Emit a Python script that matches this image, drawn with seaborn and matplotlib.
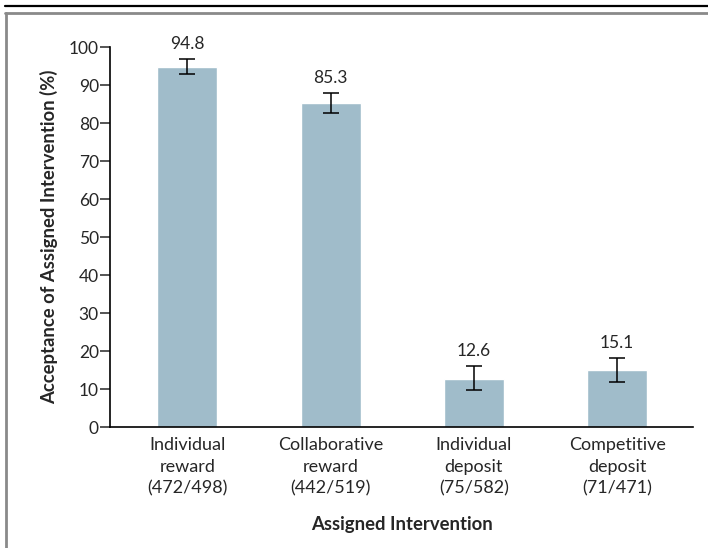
import pandas as pd
import numpy as np
import seaborn as sns
import matplotlib.pyplot as plt
from matplotlib.lines import Line2D

# values
groups = ["Individual\nreward\n(472/498)", "Collaborative\nreward\n(442/519)",
          "Individual\ndeposit\n(75/582)", "Competitive\ndeposit\n(71/471)"]
acceptance = [94.8, 85.3, 12.6, 15.1]
ci_low = [92.9, 82.6, 9.7, 11.8]
ci_high = [96.8, 88.0, 16.0, 18.2]
y_ticks = [0, 10, 20, 30, 40, 50, 60, 70, 80, 90, 100]

bar_color = "#A0BCCA"


def main():
    sns.set_style("white")
    plt.rcParams["font.family"] = ["Lato", "DejaVu Sans"]

    df = pd.DataFrame({"group": groups, "pct": acceptance})

    fig = plt.figure(figsize=(7.08, 5.48), dpi=100)
    ax = fig.add_axes([0.1554, 0.2208, 0.8236, 0.6934])

    sns.barplot(data=df, x="group", y="pct", color=bar_color, width=0.42,
                saturation=1, ax=ax)

    x = np.arange(len(groups))
    vals = np.array(acceptance)
    yerr = [vals - np.array(ci_low), np.array(ci_high) - vals]
    ax.errorbar(x, vals, yerr=yerr, fmt="none", ecolor="black",
                elinewidth=1.1, capsize=5.8, capthick=1.1)

    for xi, hi, v in zip(x, ci_high, acceptance):
        ax.text(xi, hi + 1.8, f"{v:.1f}", ha="center", va="bottom",
                fontsize=12.5)

    ax.set_ylim(0, 100)
    ax.set_xlim(-0.54, 3.53)
    ax.set_yticks(y_ticks)
    ax.tick_params(axis="y", direction="out", length=7, width=1.1,
                   labelsize=12.5, pad=1, left=True)
    ax.tick_params(axis="x", length=0, labelsize=13, pad=7)
    for lab in ax.get_xticklabels():
        lab.set_linespacing(1.45)

    sns.despine(ax=ax, top=True, right=True)
    ax.spines["left"].set_linewidth(1.2)
    ax.spines["bottom"].set_linewidth(1.2)
    ax.spines["left"].set_color("black")
    ax.spines["bottom"].set_color("black")

    ax.set_ylabel("Acceptance of Assigned Intervention (%)", fontsize=13.3,
                  fontweight="bold", labelpad=8)
    ax.set_xlabel("Assigned Intervention", fontsize=13.3, fontweight="bold",
                  labelpad=14)

    # journal-style frame
    W, H = 708, 548
    fig.add_artist(Line2D([5 / W, 1], [1 - 6 / H, 1 - 6 / H], color="black",
                          lw=1.6, transform=fig.transFigure))
    fig.add_artist(Line2D([5 / W, 1], [1 - 12.5 / H, 1 - 12.5 / H],
                          color="#8a8a8a", lw=2, transform=fig.transFigure))
    fig.add_artist(Line2D([5.5 / W, 5.5 / W], [0, 1 - 12.5 / H],
                          color="#8a8a8a", lw=2, transform=fig.transFigure))

    fig.savefig("out.png", dpi=100)


if __name__ == "__main__":
    main()
